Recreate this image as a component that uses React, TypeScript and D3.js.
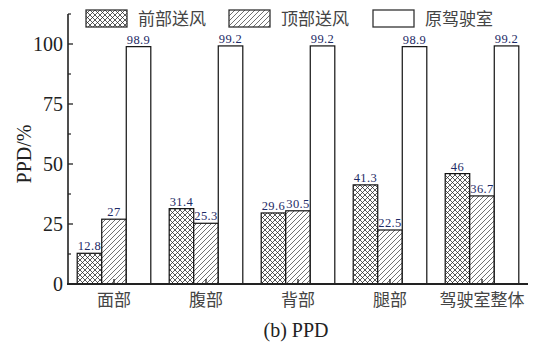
import React from "react";
import * as d3 from "d3";

const categories = ["面部", "腹部", "背部", "腿部", "驾驶室整体"];
const seriesNames = ["前部送风", "顶部送风", "原驾驶室"];
const frontValues = [12.8, 31.4, 29.6, 41.3, 46];
const topValues = [27, 25.3, 30.5, 22.5, 36.7];
const originalValues = [98.9, 99.2, 99.2, 98.9, 99.2];
const frontLabels = ["12.8", "31.4", "29.6", "41.3", "46"];
const topLabels = ["27", "25.3", "30.5", "22.5", "36.7"];
const originalLabels = ["98.9", "99.2", "99.2", "98.9", "99.2"];
const yMajorTicks = [0, 25, 50, 75, 100];
const yMinorTicks = [12.5, 37.5, 62.5, 87.5, 112.5];

const W = 557;
const H = 360;
const serif = "'Liberation Serif', 'DejaVu Serif', serif";
const cjk = "'Noto Sans CJK SC', sans-serif";
const labelColor = "#1d2a66";

export default function App() {
  const x = d3.scaleBand<string>().domain(categories).range([68, 528]).padding(0);
  const inner = d3
    .scaleBand<number>()
    .domain([0, 1, 2])
    .range([x.bandwidth() * 0.1, x.bandwidth() * 0.9])
    .padding(0);
  const y = d3.scaleLinear().domain([0, 112.5]).range([284, 14]);

  const series = [
    { values: frontValues, labels: frontLabels, fill: "url(#cross)" },
    { values: topValues, labels: topLabels, fill: "url(#diag)" },
    { values: originalValues, labels: originalLabels, fill: "#fff" },
  ];

  const legendX = [86, 229, 373];
  const legendFills = ["url(#cross)", "url(#diag)", "#fff"];

  return (
    <svg width={W} height={H} style={{ position: "absolute", left: 0, top: 0, background: "#fff" }}>
      <defs>
        <pattern id="cross" patternUnits="userSpaceOnUse" width="5" height="5">
          <rect width="5" height="5" fill="#fff" />
          <path d="M0,0 L5,5 M5,0 L0,5" stroke="#222" strokeWidth="0.75" />
        </pattern>
        <pattern id="diag" patternUnits="userSpaceOnUse" width="5" height="5">
          <rect width="5" height="5" fill="#fff" />
          <path d="M-1,1 L1,-1 M0,5 L5,0 M4,6 L6,4" stroke="#333" strokeWidth="0.7" />
        </pattern>
      </defs>

      {/* bars */}
      {categories.map((c, i) => (
        <g key={c}>
          {series.map((s, j) => {
            const bx = (x(c) ?? 0) + (inner(j) ?? 0);
            const bw = inner.bandwidth();
            const top = y(s.values[i]);
            return (
              <g key={j}>
                <rect x={bx} y={top} width={bw} height={y(0) - top} fill={s.fill} stroke="#111" strokeWidth={1.2} />
                <text
                  x={bx + bw / 2}
                  y={top - 3}
                  textAnchor="middle"
                  fontFamily={serif}
                  fontSize={12.5}
                  letterSpacing={0.4}
                  fill={labelColor}
                >
                  {s.labels[i]}
                </text>
              </g>
            );
          })}
          <line
            x1={(x(c) ?? 0) + x.bandwidth() / 2}
            x2={(x(c) ?? 0) + x.bandwidth() / 2}
            y1={y(0)}
            y2={y(0) - 5}
            stroke="#111"
            strokeWidth={1.2}
          />
          <text
            x={(x(c) ?? 0) + x.bandwidth() / 2}
            y={306}
            textAnchor="middle"
            fontFamily={cjk}
            fontSize={17}
            fill="#444"
          >
            {c}
          </text>
        </g>
      ))}

      {/* y axis */}
      <line x1={68} x2={68} y1={y(112.5)} y2={y(0) + 1} stroke="#222" strokeWidth={1.6} />
      {yMajorTicks.map((t) => (
        <g key={t}>
          <line x1={68} x2={73} y1={y(t)} y2={y(t)} stroke="#222" strokeWidth={1.3} />
          <text
            x={63}
            y={y(t) + 6.5}
            textAnchor="end"
            fontFamily={serif}
            fontSize={20}
            fill="#222"
          >
            {t}
          </text>
        </g>
      ))}
      {yMinorTicks.map((t) => (
        <line key={t} x1={68} x2={71} y1={y(t)} y2={y(t)} stroke="#222" strokeWidth={1.2} />
      ))}
      {/* x axis */}
      <line x1={67} x2={528} y1={y(0)} y2={y(0)} stroke="#222" strokeWidth={2} />

      <text
        transform={`translate(31,${154}) rotate(-90)`}
        textAnchor="middle"
        fontFamily={serif}
        fontSize={20}
        fill="#222"
      >
        PPD/%
      </text>

      {/* legend */}
      {seriesNames.map((n, i) => (
        <g key={n}>
          <rect x={legendX[i]} y={10} width={41} height={17} fill={legendFills[i]} stroke="#333" strokeWidth={1.3} />
          <text x={legendX[i] + 52} y={25} fontFamily={cjk} fontSize={17} fill="#444">
            {n}
          </text>
        </g>
      ))}

      <text x={296} y={337} textAnchor="middle" fontFamily={serif} fontSize={20} fill="#222">
        (b) PPD
      </text>
    </svg>
  );
}
